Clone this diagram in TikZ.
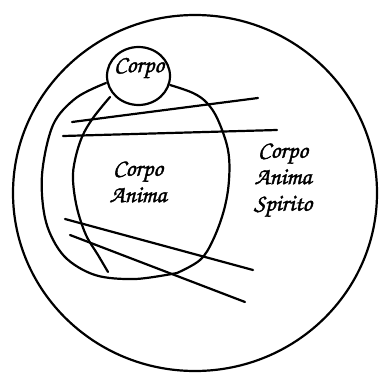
\documentclass[tikz,border=0pt]{standalone}
\usepackage{fontspec}
\usetikzlibrary{shapes.geometric}
\newfontfamily\handfont[FakeBold=1.6]{TeX Gyre Chorus}
\tikzset{
  ink/.style={line width=2.2pt, black, line cap=round, line join=round},
  lbl/.style={font=\handfont\fontsize{24}{26.5}\selectfont, align=center, inner sep=0pt}
}
\begin{document}
\begin{tikzpicture}[x=1pt,y=-1pt]
\useasboundingbox (0,0) rectangle (379,374);
% outer circle
\node[ink, draw, ellipse, minimum width=364pt, minimum height=356pt, inner sep=0pt] (outer) at (195,193) {};
% small circle
\node[ink, draw, ellipse, minimum width=63pt, minimum height=58pt, inner sep=0pt] (small) at (138.5,76) {};
\node[lbl] (t1) at (139,68) {Corpo};
% middle arc (left, big)
\draw[ink] plot[smooth, tension=0.55] coordinates {(106,83) (76,98) (53,125) (42,175) (46,222) (64,256) (95,275) (135,279) (177,273)};
% inner right arc
\draw[ink] plot[smooth, tension=0.6] coordinates {(170,85) (193,93) (207,103) (218,120) (228,150) (229,180) (224,210) (213,240) (200,260) (177,273)};
% inner left arc
\draw[ink] plot[smooth, tension=0.6] coordinates {(110,97) (93,118) (82,137) (75,160) (73,180) (77,208) (86,235) (98,255) (108,272)};
% lines
\coordinate (a1) at (72,122); \coordinate (b1) at (258,98);
\coordinate (a2) at (63,136); \coordinate (b2) at (277,130);
\coordinate (a3) at (65,219); \coordinate (b3) at (253,270);
\coordinate (a4) at (70,235); \coordinate (b4) at (245,302);
\draw[ink] (a1) -- (b1);
\draw[ink] (a2) -- (b2);
\draw[ink] (a3) -- (b3);
\draw[ink] (a4) -- (b4);
% labels
\node[lbl] (t2) at (138,182) {Corpo\\Anima};
\node[lbl] (t3) at (283,180) {Corpo\\Anima\\Spirito};
\end{tikzpicture}
\end{document}
